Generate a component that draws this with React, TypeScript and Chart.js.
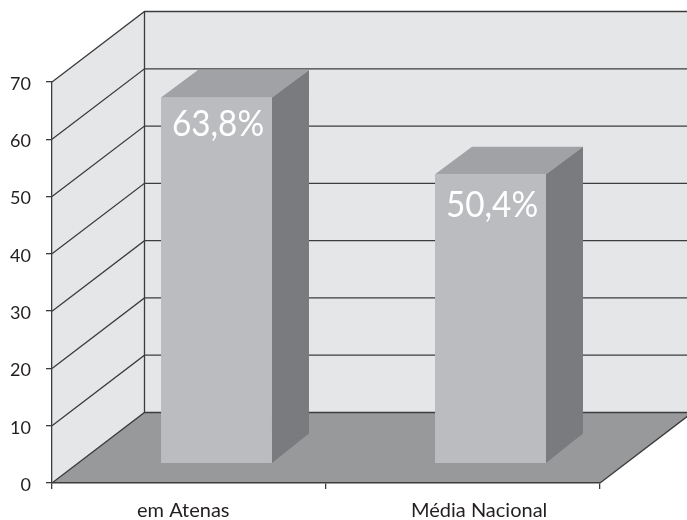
import React, { useEffect, useRef } from "react";
import { Chart, registerables } from "chart.js";

Chart.register(...registerables);

const categories = ["em Atenas", "Média Nacional"];
const values = [63.8, 50.4];
const valueLabels = ["63,8%", "50,4%"];
const yMin = 0;
const yMax = 70;
const yStep = 10;

// Perspective of the 3D box, in pixels, and how far the bars stand above the front edge.
const WALL_DX = 92.5;
const WALL_DY = -70.5;
const BAR_DX = 37;
const BAR_DY = -27.5;
const BAR_BASE_DY = -29.5;
const BAR_SHIFT = 27.5;
const FLOOR_LIFT = 3.5; // in axis units
const LABEL_DY = [27, 31];

const WALL = "#e5e6e8";
const FLOOR = "#98999b";
const FRONT = "#bbbcbf";
const TOP = "#a1a2a5";
const SIDE = "#7a7b7e";
const LINE = "#3c3c3e";
const TEXT = "#231f20";
const FONT = "Lato";

function poly(ctx: CanvasRenderingContext2D, pts: number[][], fill: string) {
  ctx.beginPath();
  pts.forEach(([x, y], i) => (i ? ctx.lineTo(x, y) : ctx.moveTo(x, y)));
  ctx.closePath();
  ctx.fillStyle = fill;
  ctx.fill();
}

function seg(ctx: CanvasRenderingContext2D, pts: number[][]) {
  ctx.beginPath();
  pts.forEach(([x, y], i) => (i ? ctx.lineTo(x, y) : ctx.moveTo(x, y)));
  ctx.stroke();
}

const box3d = {
  id: "box3d",
  afterDatasetsUpdate(chart: any) {
    chart.getDatasetMeta(0).data.forEach((bar: any) => {
      bar.x += BAR_SHIFT;
    });
  },
  beforeDraw(chart: any) {
    const { ctx, width } = chart;
    const ys = chart.scales.y;
    const xs = chart.scales.x;
    const x0 = xs.left;
    const x1 = xs.right;
    const top = ys.getPixelForValue(yMax);
    const bot = ys.getPixelForValue(yMin);
    const bx = x0 + WALL_DX;
    ctx.save();
    poly(ctx, [[x0, top], [bx, top + WALL_DY], [width, top + WALL_DY], [width, bot + WALL_DY], [bx, bot + WALL_DY], [x0, bot]], WALL);
    poly(ctx, [[x0, bot], [bx, bot + WALL_DY], [x1 + WALL_DX, bot + WALL_DY], [x1, bot]], FLOOR);
    ctx.strokeStyle = LINE;
    ctx.lineWidth = 1.3;
    ys.ticks.forEach((t: any) => {
      const y = ys.getPixelForValue(t.value);
      seg(ctx, [[x0, y], [bx, y + WALL_DY], [width, y + WALL_DY]]);
    });
    seg(ctx, [[bx, top + WALL_DY], [bx, bot + WALL_DY]]);
    seg(ctx, [[x1, bot], [x1 + WALL_DX, bot + WALL_DY]]);
    ctx.restore();
  },
  afterDatasetsDraw(chart: any) {
    const { ctx } = chart;
    ctx.save();
    chart.getDatasetMeta(0).data.forEach((bar: any, i: number) => {
      const right = bar.x + bar.width / 2;
      const left = bar.x - bar.width / 2;
      poly(ctx, [[left, bar.y], [left + BAR_DX, bar.y + BAR_DY], [right + BAR_DX, bar.y + BAR_DY], [right, bar.y]], TOP);
      poly(ctx, [[right, bar.y], [right + BAR_DX, bar.y + BAR_DY], [right + BAR_DX, bar.base + BAR_BASE_DY], [right, bar.base]], SIDE);
      ctx.save();
      ctx.fillStyle = "#ffffff";
      ctx.font = `37px ${FONT}`;
      ctx.textAlign = "center";
      ctx.textBaseline = "middle";
      ctx.translate(bar.x + 1.5, bar.y + LABEL_DY[i]);
      ctx.scale(0.9, 1);
      ctx.fillText(valueLabels[i], 0, 0);
      ctx.restore();
    });
    ctx.restore();
  },
};

export default function App() {
  const ref = useRef<HTMLCanvasElement>(null);
  useEffect(() => {
    document.body.style.margin = "0";
    const chart = new Chart(ref.current!, {
      type: "bar",
      data: {
        labels: categories,
        datasets: [
          {
            data: values.map((v) => [FLOOR_LIFT, v + FLOOR_LIFT]) as any,
            backgroundColor: FRONT,
            borderWidth: 0,
            barPercentage: 0.405,
            categoryPercentage: 1,
          },
        ],
      },
      options: {
        responsive: false,
        animation: false,
        events: [],
        layout: { padding: { top: 82, right: 87, left: 0, bottom: 0 } },
        plugins: { legend: { display: false }, title: { display: false }, tooltip: { enabled: false } },
        scales: {
          x: {
            afterFit: (s: any) => {
              s.height = 37;
            },
            grid: { drawOnChartArea: false, drawTicks: true, tickLength: 6, color: LINE, lineWidth: 1.3, offset: true },
            border: { display: true, color: LINE, width: 1.5 },
            ticks: {
              color: TEXT,
              font: { family: FONT, size: 20 },
              padding: 10,
              maxRotation: 0,
              autoSkip: false,
              align: "start",
              labelOffset: -52,
            },
          },
          y: {
            min: yMin,
            max: yMax,
            afterFit: (s: any) => {
              s.width = 52;
            },
            grid: { drawOnChartArea: false, drawTicks: true, tickLength: 6, color: LINE, lineWidth: 1.3 },
            border: { display: true, color: LINE, width: 1.3 },
            ticks: { stepSize: yStep, color: TEXT, font: { family: FONT, size: 18 }, padding: 15, labelOffset: 2 },
          },
        },
      } as any,
      plugins: [box3d],
    });
    return () => chart.destroy();
  }, []);
  return <canvas ref={ref} width={687} height={520} style={{ display: "block", width: 687, height: 520 }} />;
}
